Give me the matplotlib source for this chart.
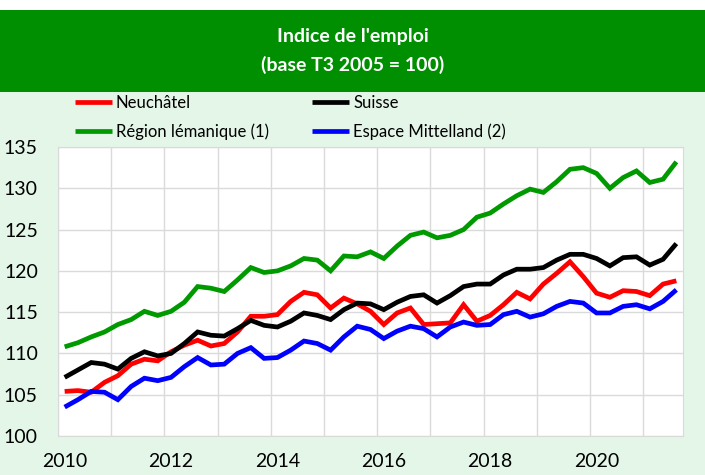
import numpy as np
import pandas as pd
import matplotlib
matplotlib.use("Agg")
import matplotlib.pyplot as plt
from matplotlib.patches import Rectangle

# Quarterly data, 2010 T1 -> 2021 T3
quarters = pd.period_range("2010Q1", "2021Q3", freq="Q")

neuchatel = [105.4, 105.5, 105.3, 106.5, 107.3, 108.7, 109.3, 109.1, 110.2, 111.0,
             111.6, 110.9, 111.2, 112.6, 114.5, 114.5, 114.7, 116.3, 117.4, 117.1,
             115.5, 116.7, 116.0, 115.1, 113.5, 114.9, 115.5, 113.5, 113.6, 113.7,
             115.9, 113.9, 114.6, 115.9, 117.4, 116.6, 118.4, 119.7, 121.1, 119.3,
             117.3, 116.8, 117.6, 117.5, 117.0, 118.4, 118.8]
suisse = [107.1, 108.0, 108.9, 108.7, 108.1, 109.4, 110.2, 109.7, 110.0, 111.2,
          112.6, 112.2, 112.1, 113.0, 114.0, 113.4, 113.2, 113.9, 114.9, 114.6,
          114.1, 115.3, 116.1, 116.0, 115.3, 116.2, 116.9, 117.1, 116.1, 117.0,
          118.1, 118.4, 118.4, 119.5, 120.2, 120.2, 120.4, 121.3, 122.0, 122.0,
          121.5, 120.6, 121.6, 121.7, 120.7, 121.4, 123.3]
lemanique = [110.8, 111.3, 112.0, 112.6, 113.5, 114.1, 115.1, 114.6, 115.1, 116.2,
             118.1, 117.9, 117.5, 118.9, 120.4, 119.8, 120.0, 120.6, 121.5, 121.3,
             120.0, 121.8, 121.7, 122.3, 121.5, 123.0, 124.3, 124.7, 124.0, 124.3,
             125.0, 126.5, 127.0, 128.1, 129.1, 129.9, 129.5, 130.8, 132.3, 132.5,
             131.8, 130.0, 131.3, 132.1, 130.7, 131.1, 133.2]
mittelland = [103.5, 104.4, 105.4, 105.3, 104.4, 106.0, 107.0, 106.7, 107.1, 108.4,
              109.5, 108.6, 108.7, 110.0, 110.7, 109.4, 109.5, 110.4, 111.5, 111.2,
              110.4, 112.0, 113.3, 112.9, 111.8, 112.7, 113.3, 113.0, 112.0, 113.2,
              113.8, 113.4, 113.5, 114.7, 115.1, 114.4, 114.8, 115.7, 116.3, 116.1,
              114.9, 114.9, 115.7, 115.9, 115.4, 116.3, 117.7]

series = [
    ("Neuchâtel", neuchatel, "#FF0000"),
    ("Région lémanique (1)", lemanique, "#009900"),
    ("Suisse", suisse, "#000000"),
    ("Espace Mittelland (2)", mittelland, "#0000FF"),
]
draw_order = [0, 2, 1, 3]

plt.rcParams["font.family"] = ["Lato", "DejaVu Sans"]

fig = plt.figure(figsize=(7.05, 4.75), dpi=100, facecolor="#E3F6E8")
W, H = 705, 475

# top white strip and green title banner
fig.patches.append(Rectangle((0, 1 - 10 / H), 1, 10 / H, transform=fig.transFigure,
                             facecolor="white", edgecolor="none", zorder=0))
fig.patches.append(Rectangle((0, 1 - 92 / H), 1, 82 / H, transform=fig.transFigure,
                             facecolor="#008F00", edgecolor="none", zorder=0))
fig.text(0.5, 1 - 51 / H, "Indice de l'emploi\n(base T3 2005 = 100)", color="white",
         fontsize=14, fontweight="bold", ha="center", va="center", linespacing=1.7)

ax = fig.add_axes([58 / W, 1 - 436 / H, (683 - 58) / W, (436 - 147) / H])
ax.set_facecolor("white")

x = np.arange(len(quarters))
lines = {}
for k in draw_order:
    name, vals, col = series[k]
    lines[k], = ax.plot(x, vals, color=col, lw=3.4, solid_joinstyle="miter",
                        solid_capstyle="butt", label=name)

ax.set_xlim(-0.5, len(quarters) - 0.5)
ax.set_ylim(100, 135)
ax.set_yticks(np.arange(100, 136, 5))
ax.set_xticks(np.arange(-0.5, len(quarters), 4), minor=True)
year_pos = [i for i, q in enumerate(quarters) if q.quarter == 1 and q.year % 2 == 0]
ax.set_xticks(year_pos)
ax.set_xticklabels([str(quarters[i].year) for i in year_pos])
ax.grid(True, which="minor", axis="x", color="#DADADA", lw=1)
ax.grid(True, which="major", axis="y", color="#DADADA", lw=1)
ax.set_axisbelow(True)
ax.tick_params(which="both", length=0)
ax.tick_params(axis="y", labelsize=14, pad=14.5)
ax.tick_params(axis="x", labelsize=14, pad=12)
for s in ax.spines.values():
    s.set_color("#DADADA")

fig.legend([lines[k] for k in range(4)], [series[k][0] for k in range(4)],
           ncol=2, loc="upper left", bbox_to_anchor=(75 / W, 1 - 95 / H),
           frameon=False, fontsize=12, borderpad=0, borderaxespad=0,
           handlelength=2.2, handletextpad=0.25, columnspacing=2.6,
           labelspacing=0.75)

fig.savefig("out.png", dpi=100, facecolor=fig.get_facecolor())
